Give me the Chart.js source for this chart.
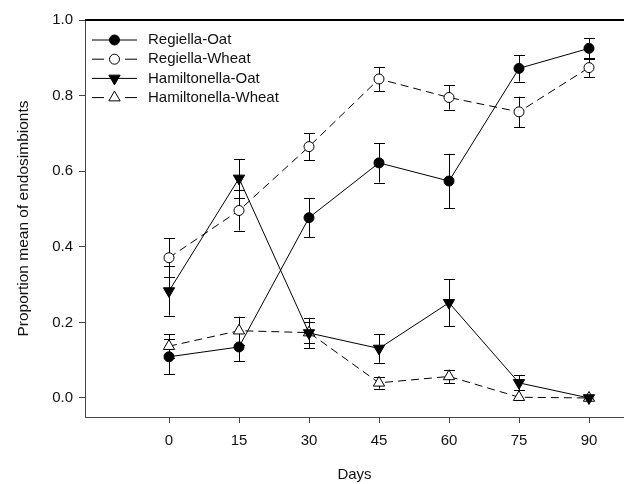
<!DOCTYPE html>
<html>
<head>
<meta charset="utf-8">
<script src="https://cdn.jsdelivr.net/npm/chart.js@4.4.1/dist/chart.umd.min.js"></script>
<style>
html, body { margin: 0; padding: 0; background: #fff; }
#wrap { width: 624px; height: 484px; }
</style>
</head>
<body>
<div id="wrap"><canvas id="graph" width="624" height="484"></canvas></div>
<script>
var days = [0, 15, 30, 45, 60, 75, 90];
var yTicks = [0, 0.2, 0.4, 0.6, 0.8, 1.0];
var seriesNames = ["Regiella-Oat", "Regiella-Wheat", "Hamiltonella-Oat", "Hamiltonella-Wheat"];
var regiellaOat = [0.109, 0.135, 0.477, 0.622, 0.574, 0.872, 0.925];
var regiellaOatErr = [0.046, 0.037, 0.051, 0.052, 0.072, 0.035, 0.027];
var regiellaWheat = [0.371, 0.496, 0.665, 0.844, 0.795, 0.757, 0.874];
var regiellaWheatErr = [0.051, 0.053, 0.036, 0.032, 0.032, 0.040, 0.025];
var hamiltonellaOat = [0.283, 0.581, 0.172, 0.131, 0.252, 0.040, 0.0];
var hamiltonellaOatErr = [0.065, 0.051, 0.040, 0.038, 0.062, 0.020, 0];
var hamiltonellaWheat = [0.137, 0.178, 0.173, 0.040, 0.057, 0.002, 0.0];
var hamiltonellaWheatErr = [0.031, 0.037, 0.028, 0.015, 0.018, 0, 0];

var FONT = "'Liberation Sans', Arial, sans-serif";
var INK = "#111";

function points(values) {
    return days.map(function(d, i) { return { x: d, y: values[i] }; });
}

function makeSet(idx, values, errs, style, filled, dashed) {
    return {
        label: seriesNames[idx],
        data: points(values),
        errors: errs,
        borderColor: "#000",
        borderWidth: 1,
        borderDash: dashed ? [8, 5] : [],
        pointStyle: style === "circle" ? "circle" : "triangle",
        pointRotation: style === "down" ? 180 : 0,
        pointRadius: style === "circle" ? 5 : 6.5,
        pointBorderWidth: 1,
        pointBorderColor: "#000",
        pointBackgroundColor: filled ? "#000" : "#fff",
        fill: false,
        tension: 0,
        clip: false,
        mark: style,
        filled: filled,
        dashed: dashed
    };
}

function drawMarker(ctx, kind, filled, x, y) {
    ctx.save();
    ctx.setLineDash([]);
    ctx.lineWidth = 1;
    ctx.strokeStyle = "#000";
    ctx.fillStyle = filled ? "#000" : "#fff";
    ctx.beginPath();
    if (kind === "circle") {
        ctx.arc(x, y, 5, 0, Math.PI * 2);
    } else {
        var r = 6.5, s = kind === "down" ? -1 : 1;
        ctx.moveTo(x, y - s * r);
        ctx.lineTo(x + r * 0.866, y + s * r * 0.5);
        ctx.lineTo(x - r * 0.866, y + s * r * 0.5);
        ctx.closePath();
    }
    ctx.fill();
    ctx.stroke();
    ctx.restore();
}

var errorBars = {
    id: "errorBars",
    beforeDatasetsDraw: function(chart) {
        var ctx = chart.ctx;
        var xs = chart.scales.x, ys = chart.scales.y;
        ctx.save();
        ctx.strokeStyle = "#000";
        ctx.lineWidth = 1;
        chart.data.datasets.forEach(function(ds) {
            ds.data.forEach(function(p, i) {
                var e = ds.errors[i];
                if (!e) return;
                var px = Math.round(xs.getPixelForValue(p.x)) + 0.5;
                var top = ys.getPixelForValue(p.y + e);
                var bot = ys.getPixelForValue(p.y - e);
                ctx.beginPath();
                ctx.moveTo(px, top); ctx.lineTo(px, bot);
                ctx.moveTo(px - 5.5, Math.round(top) + 0.5); ctx.lineTo(px + 5.5, Math.round(top) + 0.5);
                ctx.moveTo(px - 5.5, Math.round(bot) + 0.5); ctx.lineTo(px + 5.5, Math.round(bot) + 0.5);
                ctx.stroke();
            });
        });
        ctx.restore();
    }
};

var frameAndLegend = {
    id: "frameAndLegend",
    afterDraw: function(chart) {
        var ctx = chart.ctx, a = chart.chartArea;
        ctx.save();
        ctx.strokeStyle = "#000";
        ctx.lineWidth = 2;
        ctx.beginPath();
        ctx.moveTo(a.left, a.top); ctx.lineTo(a.right, a.top);
        ctx.stroke();

        ctx.font = "15px " + FONT;
        ctx.fillStyle = INK;
        ctx.textBaseline = "middle";
        chart.data.datasets.forEach(function(ds, i) {
            var y = a.top + 20 + i * 19.2;
            ctx.strokeStyle = "#000";
            ctx.lineWidth = 1;
            ctx.beginPath();
            if (ds.dashed) {
                ctx.moveTo(92, y); ctx.lineTo(104, y);
                ctx.moveTo(125, y); ctx.lineTo(137, y);
            } else {
                ctx.moveTo(92, y); ctx.lineTo(137, y);
            }
            ctx.stroke();
            drawMarker(ctx, ds.mark, ds.filled, 114.5, y);
            ctx.fillText(ds.label, 148, y);
        });
        ctx.restore();
    }
};

new Chart(document.getElementById("graph").getContext("2d"), {
    type: "line",
    data: {
        datasets: [
            makeSet(0, regiellaOat, regiellaOatErr, "circle", true, false),
            makeSet(1, regiellaWheat, regiellaWheatErr, "circle", false, true),
            makeSet(2, hamiltonellaOat, hamiltonellaOatErr, "down", true, false),
            makeSet(3, hamiltonellaWheat, hamiltonellaWheatErr, "up", false, true)
        ]
    },
    options: {
        responsive: false,
        animation: false,
        devicePixelRatio: 1,
        layout: { autoPadding: false, padding: { top: 20, right: 0, bottom: 0, left: 0 } },
        plugins: { legend: { display: false }, tooltip: { enabled: false } },
        scales: {
            x: {
                type: "linear",
                min: -18,
                max: 97.5,
                afterBuildTicks: function(scale) {
                    scale.ticks = days.map(function(v) { return { value: v }; });
                },
                afterFit: function(scale) {
                    scale.height = 67;
                    scale.paddingLeft = 0;
                    scale.paddingRight = 0;
                },
                ticks: {
                    color: INK,
                    font: { family: FONT, size: 15 },
                    padding: 9,
                    maxRotation: 0,
                    callback: function(v) { return String(v); }
                },
                grid: { display: true, drawOnChartArea: false, drawTicks: true, tickLength: 6, color: "#444" },
                border: { display: true, color: "#444", width: 1 },
                title: { display: true, text: "Days", color: INK, font: { family: FONT, size: 15 }, padding: { top: 2, bottom: 0 } }
            },
            y: {
                min: -0.0503,
                max: 1.0,
                afterBuildTicks: function(scale) {
                    scale.ticks = yTicks.map(function(v) { return { value: v }; });
                },
                afterFit: function(scale) {
                    scale.width = 85;
                    scale.paddingTop = 0;
                    scale.paddingBottom = 0;
                },
                ticks: {
                    color: INK,
                    font: { family: FONT, size: 15 },
                    padding: 6,
                    callback: function(v) { return v.toFixed(1); }
                },
                grid: { display: true, drawOnChartArea: false, drawTicks: true, tickLength: 6, color: "#444" },
                border: { display: true, color: "#444", width: 1 },
                title: { display: true, text: "Proportion mean of endosimbionts", color: INK, font: { family: FONT, size: 15.5 }, padding: { top: 14, bottom: 0 } }
            }
        }
    },
    plugins: [errorBars, frameAndLegend]
});
</script>
</body>
</html>
